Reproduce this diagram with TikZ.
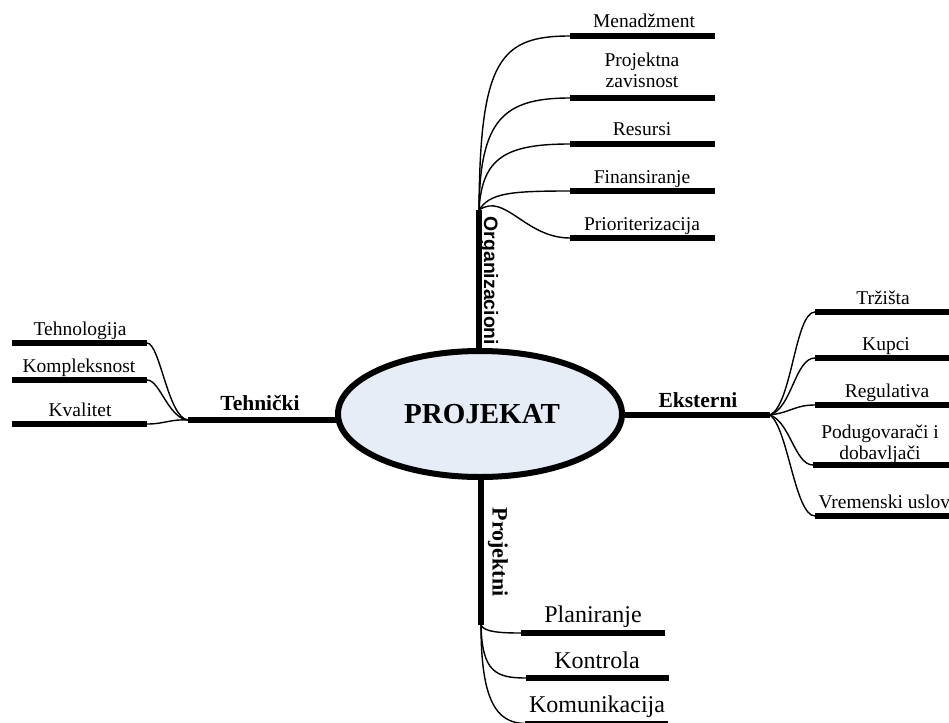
\documentclass[tikz,border=0pt]{standalone}
\usepackage{fontspec}
\setmainfont{Liberation Serif}
\newfontfamily\arialfont{Liberation Sans}
\usetikzlibrary{shapes.geometric}
\definecolor{ellfill}{RGB}{230,237,246}
\tikzset{
  bar/.style={line width=6pt},
  twig/.style={line width=1.4pt},
  lbl/.style={font=\fontsize{19.5}{21}\selectfont, inner sep=0pt, anchor=base, align=center},
  biglbl/.style={font=\fontsize{24}{28}\selectfont, inner sep=0pt, anchor=base},
  branchlbl/.style={font=\bfseries\fontsize{21.5}{24}\selectfont, inner sep=0pt, anchor=base},
  hub/.style={ellipse, draw, line width=6pt, fill=ellfill, minimum width=284pt, minimum height=126pt, inner sep=0pt}
}
\begin{document}
\begin{tikzpicture}[x=1pt,y=-1pt]
\clip (0,0) rectangle (949,722);
\fill[white] (0,0) rectangle (949,722);

% hub position
\coordinate (hubc) at (480,414);

% ---------- Organizacioni (top) ----------
\coordinate (orgT) at (479,210);
\draw[bar] (orgT) -- (orgT |- hubc);
\node[font=\arialfont\bfseries\fontsize{19.4}{22}\selectfont, rotate=-90, inner sep=0pt] (orgL) at (489,281) {Organizacioni};

\coordinate (menL) at (570,36);   \coordinate (menR) at (715,36);
\coordinate (pzL) at (570,98);    \coordinate (pzR) at (715,98);
\coordinate (resL) at (570,144);  \coordinate (resR) at (715,144);
\coordinate (finL) at (570,191);  \coordinate (finR) at (715,191);
\coordinate (priL) at (570,238);  \coordinate (priR) at (715,238);
\foreach \b in {men,pz,res,fin,pri} {\draw[bar] (\b L) -- (\b R);}
\node[lbl] (menT) at (644,28) {Menadžment};
\node[lbl] (pzT) at (642,88) {Projektna\\zavisnost};
\node[lbl] (resT) at (642,136) {Resursi};
\node[lbl] (finT) at (642,183) {Finansiranje};
\node[lbl] (priT) at (642,230) {Prioriterizacija};

\draw[twig] (orgT) .. controls (480,60) and (500,36) .. (menL);
\draw[twig] (orgT) .. controls (480,120) and (503,98) .. (pzL);
\draw[twig] (orgT) .. controls (482,158) and (505,144) .. (resL);
\draw[twig] (orgT) .. controls (490,193) and (510,191) .. (finL);
\draw[twig] (orgT) .. controls (505,192) and (525,238) .. (priL);

% ---------- Tehnicki (left) ----------
\coordinate (tehJ) at (188,420);
\draw[bar] (tehJ) -- (tehJ -| hubc);
\node[branchlbl] (tehT) at (260,410) {Tehnički};

\coordinate (tnL) at (12,343);  \coordinate (tnR) at (147,343);
\coordinate (kpL) at (12,380);  \coordinate (kpR) at (147,380);
\coordinate (kvL) at (12,424);  \coordinate (kvR) at (147,424);
\foreach \b in {tn,kp,kv} {\draw[bar] (\b L) -- (\b R);}
\node[lbl] (tnT) at (80,335) {Tehnologija};
\node[lbl] (kpT) at (79,372) {Kompleksnost};
\node[lbl] (kvT) at (80,416) {Kvalitet};

\draw[twig] (tnR) .. controls (160,343) and (168,418) .. (tehJ);
\draw[twig] (kpR) .. controls (160,380) and (168,418) .. (tehJ);
\draw[twig] (kvR) .. controls (165,424) and (170,419) .. (tehJ);

% ---------- Eksterni (right) ----------
\coordinate (ekJ) at (770,415);
\draw[bar] (ekJ) -- (ekJ -| hubc);
\node[branchlbl] (ekT) at (698,407) {Eksterni};

\coordinate (trL) at (815,312);  \coordinate (trR) at (960,312);
\coordinate (kuL) at (815,358);  \coordinate (kuR) at (960,358);
\coordinate (reL) at (815,405);  \coordinate (reR) at (960,405);
\coordinate (pdL) at (813,465);  \coordinate (pdR) at (960,465);
\coordinate (vuL) at (815,516);  \coordinate (vuR) at (960,516);
\foreach \b in {tr,ku,re,pd,vu} {\draw[bar] (\b L) -- (\b R);}
\node[lbl] (trT) at (883,304) {Tržišta};
\node[lbl] (kuT) at (886,350) {Kupci};
\node[lbl] (reT) at (887,397) {Regulativa};
\node[lbl] (pdT) at (880,459) {Podugovarači i\\dobavljači};
\node[lbl] (vuT) at (887,508) {Vremenski uslovi};

\draw[twig] (ekJ) .. controls (792,405) and (795,312) .. (trL);
\draw[twig] (ekJ) .. controls (792,408) and (795,358) .. (kuL);
\draw[twig] (ekJ) .. controls (792,412) and (795,405) .. (reL);
\draw[twig] (ekJ) .. controls (790,422) and (795,465) .. (pdL);
\draw[twig] (ekJ) .. controls (788,428) and (795,516) .. (vuL);

% ---------- Projektni (bottom) ----------
\coordinate (prB) at (481,625);
\draw[bar] (prB) -- (prB |- hubc);
\node[font=\bfseries\fontsize{22}{24}\selectfont, rotate=-90, inner sep=0pt] (prL) at (498,552) {Projektni};

\coordinate (plL) at (521,633);  \coordinate (plR) at (665,633);
\coordinate (koL) at (526,678);  \coordinate (koR) at (669,678);
\coordinate (kmL) at (525,723.5);\coordinate (kmR) at (668,723.5);
\foreach \b in {pl,ko,km} {\draw[bar] (\b L) -- (\b R);}
\node[biglbl] (plT) at (593,622) {Planiranje};
\node[biglbl] (koT) at (597,668) {Kontrola};
\node[biglbl] (kmT) at (597,712) {Komunikacija};

\draw[twig] (prB) .. controls (484,632) and (500,633) .. (plL);
\draw[twig] (prB) .. controls (482,672) and (496,678) .. (koL);
\draw[twig] (prB) .. controls (481,700) and (496,723) .. (kmL);

% ---------- hub ----------
\node[hub] (proj) at (hubc) {};
\node[font=\bfseries\fontsize{29}{32}\selectfont, inner sep=0pt, anchor=base] (projT) at (482,423) {PROJEKAT};
\end{tikzpicture}
\end{document}
